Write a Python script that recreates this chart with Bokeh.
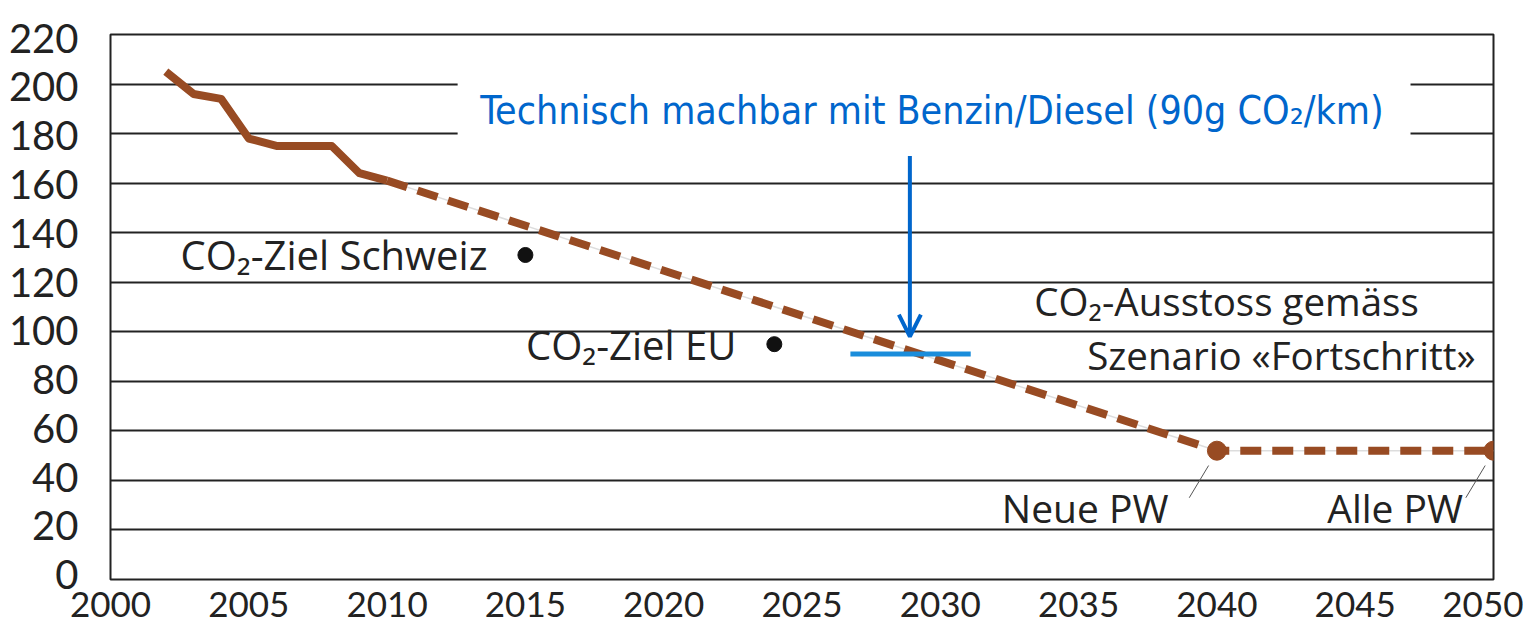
from bokeh.plotting import figure
from bokeh.models import Range1d, FixedTicker, Arrow, OpenHead, BoxAnnotation, LinearAxis
from bokeh.core.properties import value
from bokeh.embed import file_html
from bokeh.resources import INLINE

# ---- data ----
hist_years = [2002, 2003, 2004, 2005, 2006, 2007, 2008, 2009, 2010]
hist_vals = [205, 196, 194, 178, 175, 175, 175, 164, 161]
scen_years = [2010, 2040, 2050]
scen_vals = [161, 52, 52]
end_years = [2040, 2050]
end_vals = [52, 52]
target_names = ["CO₂-Ziel Schweiz", "CO₂-Ziel EU"]
target_years = [2015, 2024]
target_vals = [131, 95]
tech_years = [2026.75, 2031.1]
tech_vals = [91, 91]
arrow_year = 2028.9
arrow_from = 171
arrow_to = 98
x_ticks = [2000, 2005, 2010, 2015, 2020, 2025, 2030, 2035, 2040, 2045, 2050]
y_ticks = [0, 20, 40, 60, 80, 100, 120, 140, 160, 180, 200, 220]
title_text = "Technisch machbar mit Benzin/Diesel (90g CO₂/km)"

BROWN = "#984b23"
DARK = "#222222"
BLUE = "#0066cc"
FONT = "Open Sans"
TICK_FONT = "Lato"
Y_MIN, Y_MAX = 0, 220
# the y labels of the original sit a little inside the grid span
LABEL_RANGE = (Y_MIN - 2, Y_MAX + 1.5)

p = figure(width=1523, height=627, output_backend="svg", toolbar_location=None,
           x_range=Range1d(2000, 2050), y_range=Range1d(Y_MIN, Y_MAX),
           y_axis_location=None,
           min_border_left=110, min_border_right=30, min_border_top=34, min_border_bottom=48)
p.background_fill_color = "white"
p.border_fill_color = "white"
p.outline_line_color = DARK
p.outline_line_width = 2

p.extra_y_ranges = {"lab": Range1d(*LABEL_RANGE)}
yax = LinearAxis(y_range_name="lab", ticker=FixedTicker(ticks=y_ticks))
p.add_layout(yax, "left")

p.xaxis.ticker = FixedTicker(ticks=x_ticks)
for ax in (p.xaxis[0], yax):
    ax.axis_line_color = None
    ax.major_tick_line_color = None
    ax.minor_tick_line_color = None
    ax.major_label_text_font = TICK_FONT
    ax.major_label_text_color = DARK
yax.major_label_text_font_size = "40px"
yax.major_label_standoff = 26
p.xaxis.major_label_text_font_size = "35px"
p.xaxis.major_label_standoff = 6
p.xgrid.grid_line_color = None
p.ygrid.ticker = FixedTicker(ticks=y_ticks)
p.ygrid.grid_line_color = DARK
p.ygrid.grid_line_width = 2

# white area behind the title
p.add_layout(BoxAnnotation(left=2012.55, right=2047.0, bottom=171.5, top=211,
                           fill_color="white", fill_alpha=1.0, line_color=None,
                           level="underlay"))

# history
p.line(hist_years, hist_vals, line_color=BROWN, line_width=8, line_join="round")
# scenario dashed
p.line(scen_years, scen_vals, line_color="#dddddd", line_width=1.5)
p.line(scen_years, scen_vals, line_color=BROWN, line_width=8, line_dash="21 11")
p.scatter(end_years, end_vals, size=19, fill_color=BROWN, line_color=BROWN)

# targets
p.scatter(target_years, target_vals, size=15, fill_color="#111111", line_color="#111111")
p.text(target_years, target_vals, text=target_names, x_offset=-38,
       text_align="right", text_baseline="middle", text_font=value(FONT),
       text_font_size="40px", text_color=DARK)

# technical feasible line + arrow
p.line(tech_years, tech_vals, line_color="#1a8ddb", line_width=5)
p.add_layout(Arrow(end=OpenHead(size=22, line_color=BLUE, line_width=4),
                   x_start=arrow_year, y_start=arrow_from, x_end=arrow_year, y_end=arrow_to,
                   line_color=BLUE, line_width=4))

p.text([2029.7], [189.5], text=[title_text], text_align="center", text_baseline="middle",
       text_font=value("Liberation Sans Narrow, DejaVu Sans Condensed, Liberation Sans"),
       text_font_size="39px", text_color=BLUE)

# scenario labels
p.text([2047.3, 2049.35], [112.4, 90.8], text=["CO₂-Ausstoss gemäss", "Szenario «Fortschritt»"],
       text_align="right", text_baseline="middle", text_font=value(FONT),
       text_font_size="38.5px", text_color=DARK)

# end labels with leaders
p.segment(x0=[e - 1.0 for e in end_years], y0=[v - 19 for v in end_vals],
          x1=[e - 0.3 for e in end_years], y1=[v - 6 for v in end_vals],
          line_color="#555555", line_width=1)
p.text([2038.25, 2048.9], [28.9, 28.9], text=["Neue PW", "Alle PW"],
       text_align="right", text_baseline="middle", text_font=value(FONT),
       text_font_size="39px", text_color=DARK)

open("out.html", "w").write(file_html(p, INLINE))
